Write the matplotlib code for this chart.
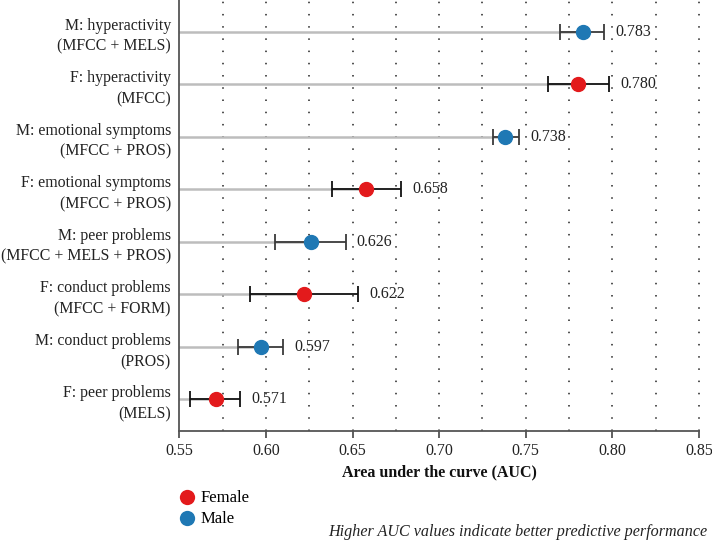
import matplotlib
matplotlib.use("Agg")
import matplotlib.pyplot as plt
from matplotlib.lines import Line2D
import numpy as np

labels = [
    "M: hyperactivity\n(MFCC + MELS)",
    "F: hyperactivity\n(MFCC)",
    "M: emotional symptoms\n(MFCC + PROS)",
    "F: emotional symptoms\n(MFCC + PROS)",
    "M: peer problems\n(MFCC + MELS + PROS)",
    "F: conduct problems\n(MFCC + FORM)",
    "M: conduct problems\n(PROS)",
    "F: peer problems\n(MELS)",
]
sex = ["M", "F", "M", "F", "M", "F", "M", "F"]
auc = [0.783, 0.780, 0.738, 0.658, 0.626, 0.622, 0.597, 0.571]
ci_low = [0.770, 0.763, 0.731, 0.638, 0.605, 0.591, 0.584, 0.556]
ci_high = [0.795, 0.798, 0.746, 0.678, 0.646, 0.653, 0.610, 0.585]
xticks = [0.55, 0.60, 0.65, 0.70, 0.75, 0.80, 0.85]

colors = {"F": "#e31a1c", "M": "#1f78b4"}
ecolors = {"F": "#111111", "M": "#3a3a3a"}

plt.rcParams["font.family"] = ["Liberation Serif", "DejaVu Serif"]

fig = plt.figure(figsize=(7.12, 5.43), dpi=100)
ax = fig.add_axes([0.2518, 0.2063, 0.7299, 0.7937])

n = len(labels)
ys = np.arange(n)
xmin, xmax = 0.55, 0.85

for xv in np.arange(0.575, 0.8501, 0.025):
    ax.axvline(xv, color="#222222", linestyle=(0, (1, 7)), linewidth=1.1,
               zorder=0, clip_on=False)

for i in range(n):
    y = ys[i]
    ax.plot([xmin, auc[i]], [y, y], color="#bdbdbd", linewidth=1.8, zorder=1)
    ax.errorbar(auc[i], y, xerr=[[auc[i] - ci_low[i]], [ci_high[i] - auc[i]]],
                fmt="none", ecolor=ecolors[sex[i]], elinewidth=1.3, capsize=5.5,
                capthick=1.3, zorder=2)
    ax.plot(auc[i], y, "o", color=colors[sex[i]], markersize=10, zorder=3)
    ax.text(ci_high[i] + 0.0065, y, f"{auc[i]:.3f}", va="center", ha="left",
            fontsize=11.5, color="#222222")

ax.set_xlim(xmin, xmax)
ax.set_ylim(n - 0.4, -0.6)
ax.set_yticks(ys)
ax.set_yticklabels(labels, fontsize=11.4, color="#222222", linespacing=1.42)
ax.set_xticks(xticks)
ax.set_xticklabels([f"{t:.2f}" for t in xticks], fontsize=11.5, color="#222222")
ax.tick_params(axis="y", length=0, pad=6)
ax.tick_params(axis="x", length=5, width=1.2, color="#444444", direction="out")
for s in ["top", "right"]:
    ax.spines[s].set_visible(False)
for s in ["left", "bottom"]:
    ax.spines[s].set_color("#555555")
    ax.spines[s].set_linewidth(1.3)
ax.set_xlabel("Area under the curve (AUC)", fontsize=11.5, fontweight="bold",
              color="#111111", labelpad=4)

handles = [
    Line2D([0], [0], marker="o", color="none", markerfacecolor=colors["F"],
           markeredgecolor="none", markersize=11, label="Female"),
    Line2D([0], [0], marker="o", color="none", markerfacecolor=colors["M"],
           markeredgecolor="none", markersize=11, label="Male"),
]
fig.legend(handles=handles, loc="upper left", bbox_to_anchor=(0.236, 0.109),
           frameon=False, fontsize=12, handletextpad=0.05, labelspacing=0.3,
           borderaxespad=0, handlelength=1.5)

fig.text(0.994, 0.006, "Higher AUC values indicate better predictive performance",
         ha="right", va="bottom", fontsize=11.6, style="italic", color="#222222")

fig.savefig("out.png", dpi=100)
